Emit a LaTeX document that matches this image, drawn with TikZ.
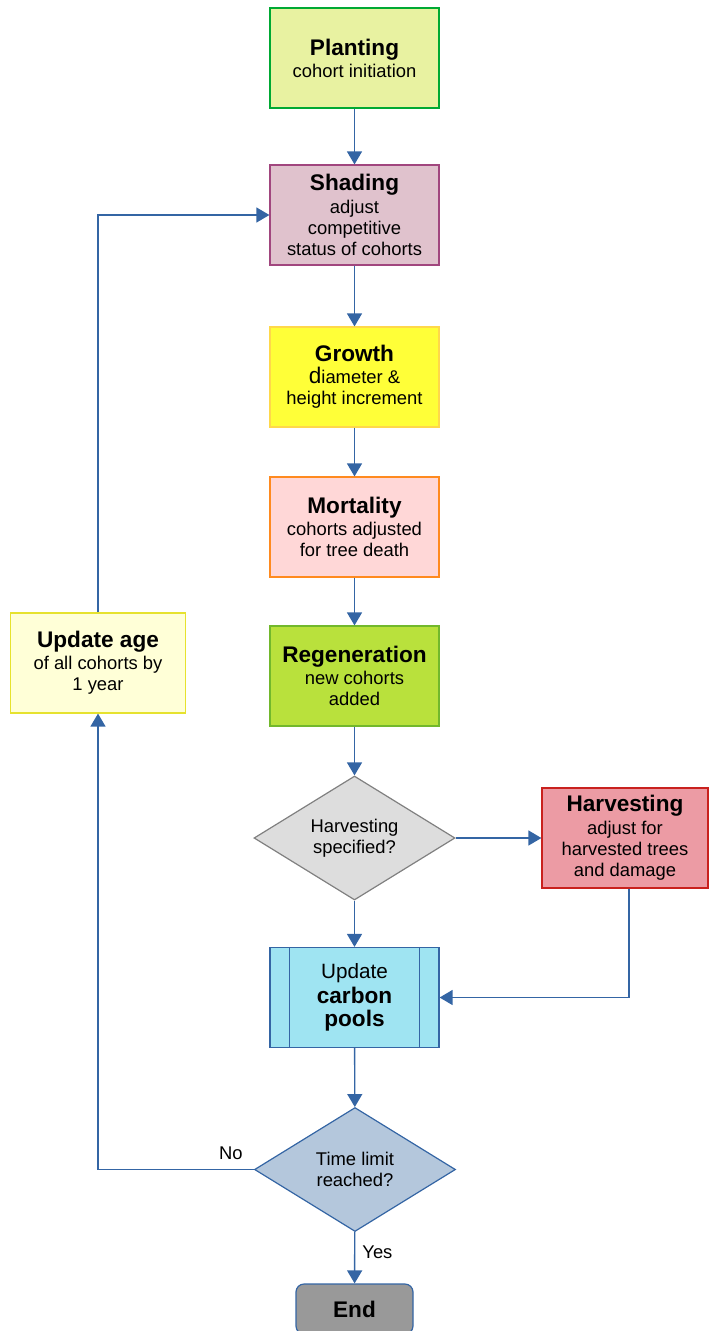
\documentclass[tikz,border=0pt]{standalone}
\usepackage{fontspec}
\setmainfont{Liberation Sans}
\usetikzlibrary{shapes.geometric,arrows.meta}
\definecolor{arrowblue}{HTML}{3465A4}
\definecolor{plantfill}{HTML}{E8F2A1}
\definecolor{plantdraw}{HTML}{00A933}
\definecolor{shadefill}{HTML}{E0C2CD}
\definecolor{shadedraw}{HTML}{A1467E}
\definecolor{growfill}{HTML}{FFFF38}
\definecolor{growdraw}{HTML}{FFD84A}
\definecolor{mortfill}{HTML}{FFD7D7}
\definecolor{mortdraw}{HTML}{FF8A1F}
\definecolor{regenfill}{HTML}{B9E13C}
\definecolor{regendraw}{HTML}{72B82C}
\definecolor{hqfill}{HTML}{DDDDDD}
\definecolor{hqdraw}{HTML}{808080}
\definecolor{harvfill}{HTML}{EC9BA4}
\definecolor{harvdraw}{HTML}{C9211E}
\definecolor{cpfill}{HTML}{9FE4F2}
\definecolor{tlfill}{HTML}{B4C7DC}
\definecolor{endfill}{HTML}{999999}
\definecolor{agefill}{HTML}{FFFFD7}
\definecolor{agedraw}{HTML}{E6E22E}
\newcommand\mytitle[1]{{\fontsize{22.6}{26}\selectfont\bfseries #1}}
\newcommand\mybig[1]{{\fontsize{22.6}{26}\selectfont #1}}
\begin{document}
\begin{tikzpicture}[x=1pt,y=-1pt,
  box/.style={rectangle, minimum width=169pt, minimum height=100pt, inner sep=0pt,
    line width=1.2pt, align=center, font=\fontsize{18.4}{21.2}\selectfont},
  dia/.style={diamond, aspect=1.62, minimum width=201pt, minimum height=124pt, inner sep=0pt,
    line width=1.2pt, align=center, font=\fontsize{18.4}{21.2}\selectfont},
  arr/.style={draw=arrowblue, line width=1.4pt, -{Triangle[length=13pt,width=15pt]}},
  lbl/.style={font=\fontsize{18.4}{21.2}\selectfont, inner sep=0pt}
]
\useasboundingbox (0,0) rectangle (709,1331);

\node[box, fill=plantfill, draw=plantdraw] (plant) at (354.5,58)
  {\mytitle{Planting}\\[1pt]cohort initiation};
\node[box, fill=shadefill, draw=shadedraw] (shade) at (354.5,215)
  {\mytitle{Shading}\\[1pt]adjust\\competitive\\status of cohorts};
\node[box, fill=growfill, draw=growdraw] (grow) at (354.5,377)
  {\mytitle{Growth}\\[1pt]\mybig{d}iameter \&\\height increment};
\node[box, fill=mortfill, draw=mortdraw] (mort) at (354.5,527)
  {\mytitle{Mortality}\\[1pt]cohorts adjusted\\for tree death};
\node[box, fill=regenfill, draw=regendraw] (regen) at (354.5,676)
  {\mytitle{Regeneration}\\[1pt]new cohorts\\added};
\node[dia, fill=hqfill, draw=hqdraw] (hq) at (354.5,838)
  {Harvesting\\specified?};
\node[box, minimum width=166pt, fill=harvfill, draw=harvdraw] (harv) at (625,838)
  {\mytitle{Harvesting}\\[1pt]adjust for\\harvested trees\\and damage};
\node[box, fill=cpfill, draw=arrowblue] (cp) at (354.5,997.5)
  {{\fontsize{20.7}{25}\selectfont Update}\\[3pt]\mytitle{carbon}\\[2pt]\mytitle{pools}};
\draw[arrowblue, line width=1.2pt] ([xshift=20pt]cp.north west) -- ([xshift=20pt]cp.south west);
\draw[arrowblue, line width=1.2pt] ([xshift=-20pt]cp.north east) -- ([xshift=-20pt]cp.south east);
\node[dia, fill=tlfill, draw=arrowblue] (tl) at (355,1169.5)
  {Time limit\\reached?};
\node[box, minimum width=117pt, minimum height=50pt, rounded corners=8pt, fill=endfill, draw=arrowblue] (end) at (354.5,1309)
  {\mytitle{End}};
\node[box, minimum width=175pt, fill=agefill, draw=agedraw] (age) at (98,663)
  {\mytitle{Update age}\\[1pt]of all cohorts by\\1 year};

\draw[arr] (plant) -- (shade);
\draw[arr] (shade) -- (grow);
\draw[arr] (grow) -- (mort);
\draw[arr] (mort) -- (regen);
\draw[arr] (regen) -- (hq);
\draw[arr] (hq) -- (harv);
\draw[arr] (hq) -- (cp);
\draw[arr] ([xshift=4pt]harv.south) |- (cp.east);
\draw[arr] (cp) -- (tl);
\draw[arr] (tl) -- node[lbl, pos=0.4, right=7pt] {Yes} (end);
\draw[arr] (tl.west) -| node[lbl, pos=0.074, above=9pt] {No} (age.south);
\draw[arr] (age.north) |- (shade.west);
\end{tikzpicture}
\end{document}
